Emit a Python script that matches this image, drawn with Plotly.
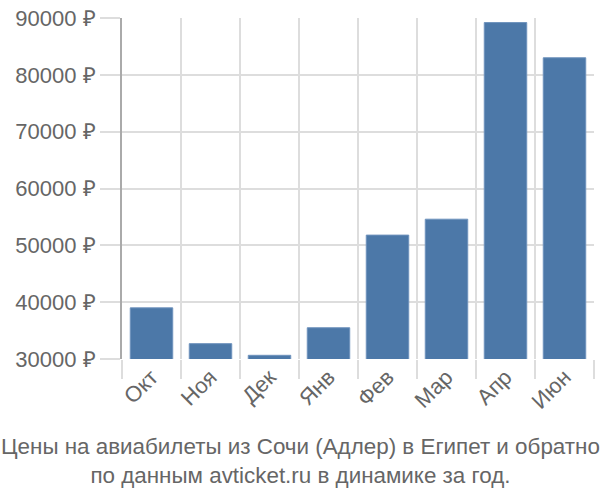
import plotly.graph_objects as go

months = ["Окт", "Ноя", "Дек", "Янв", "Фев", "Мар", "Апр", "Июн"]
prices = [39000, 32700, 30650, 35500, 51800, 54600, 89200, 83000]
y_ticks = [30000, 40000, 50000, 60000, 70000, 80000, 90000]
y_tick_labels = ["30000 ₽", "40000 ₽", "50000 ₽", "60000 ₽", "70000 ₽", "80000 ₽", "90000 ₽"]
title_lines = ["Цены на авиабилеты из Сочи (Адлер) в Египет и обратно",
               "по данным avticket.ru в динамике за год."]

fig = go.Figure(go.Bar(
    x=months, y=prices,
    marker=dict(color="#4c78a8", line=dict(color="#6f93bd", width=1)),
    width=0.72,
))

fig.update_layout(
    width=600, height=500,
    margin=dict(l=122, r=6, t=15, b=141),
    plot_bgcolor="white", paper_bgcolor="white",
    font=dict(family="Liberation Sans, Arial, sans-serif", color="#666666", size=20),
    showlegend=False,
    xaxis=dict(
        tickangle=-45, tickson="boundaries", ticks="outside", ticklen=19,
        tickcolor="#dddddd", tickwidth=2, showgrid=True, gridcolor="#dddddd", gridwidth=2,
        showline=False, tickfont=dict(size=22, color="#666666"),
        range=[-0.5, 7.5],
    ),
    yaxis=dict(
        range=[30000, 90000], tickvals=y_ticks, ticktext=y_tick_labels,
        ticks="outside", ticklen=20, tickcolor="#dddddd", tickwidth=2,
        showgrid=True, gridcolor="#dddddd", gridwidth=2,
        showline=True, linecolor="#aaaaaa", linewidth=2, zeroline=False,
        tickfont=dict(size=22, color="#666666"),
    ),
    annotations=[dict(
        text="<br>".join(title_lines), xref="paper", yref="paper",
        x=(300 - 122) / 472, xanchor="center", y=0, yanchor="top", yshift=-73,
        showarrow=False,
        font=dict(family="Liberation Sans, Arial, sans-serif", size=22.4, color="#666666"),
    )],
)

fig.write_html(
    "out.html",
    config={"displayModeBar": False},
    post_script="document.body.style.margin='0';document.body.style.overflow='hidden';",
)
